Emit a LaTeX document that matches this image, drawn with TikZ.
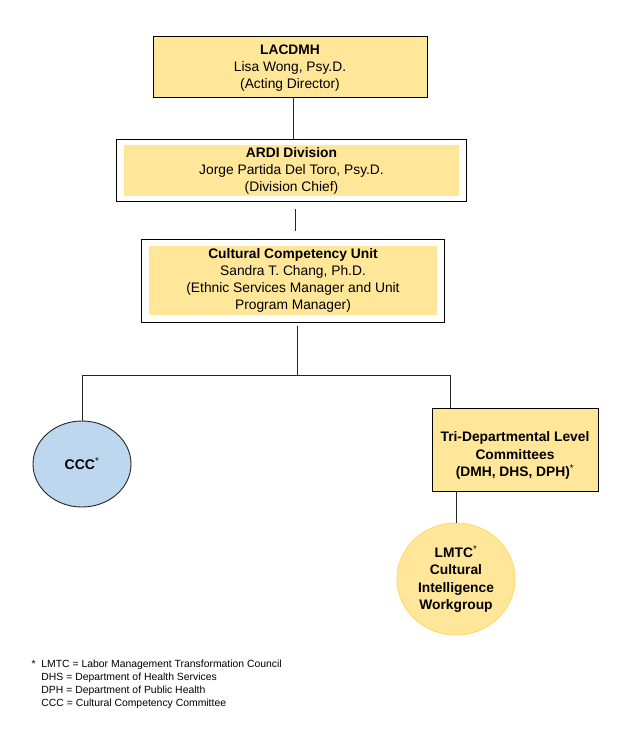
\documentclass[tikz,border=0pt]{standalone}
\usepackage{fontspec}
\setmainfont{Liberation Sans}
\usetikzlibrary{
  calc,
  fit,
  positioning,
  shapes.geometric,
}
\definecolor{boxyellow}{HTML}{FFE699}
\definecolor{cccblue}{HTML}{BDD7EE}
\definecolor{rimyellow}{HTML}{FFD966}
\newcommand{\boxfont}{\fontsize{13.8}{17}\selectfont}
\newcommand{\cmtfont}{\fontsize{13.8}{17.2}\selectfont\bfseries}
\newcommand{\notefont}{\fontsize{10.4}{13}\selectfont}
\tikzset{
  orgbox/.style={fill=boxyellow, align=center, font=\boxfont, inner sep=0pt},
  framebox/.style={draw, inner xsep=7pt, inner ysep=5pt},
  orgline/.style={draw=black!85, line width=0.8pt},
}

\begin{document}
\begin{tikzpicture}[x=1pt, y=-1pt, line width=0.9pt]

        \useasboundingbox (0,0) rectangle (629,742);

        % top of the chart
        \node [orgbox, draw, minimum width=274pt, minimum height=61pt]
              (lacdmh) at (290,66.5) {};
        \node [align=center, font=\boxfont, inner sep=0pt]
              at ([yshift=-2pt]lacdmh.center)
              {\textbf{LACDMH}\\Lisa Wong, Psy.D.\\(Acting Director)};

        \node [orgbox, minimum width=335pt, minimum height=51pt]
              (ardi) at (291.5,170.5)
              {\textbf{ARDI Division}\\Jorge Partida Del Toro, Psy.D.\\(Division Chief)};
        \node [framebox, fit=(ardi)] (ardiframe) {};

        \node [orgbox, minimum width=288pt, minimum height=69pt]
              (ccu) at (293,280.5)
              {\textbf{Cultural Competency Unit}\\Sandra T. Chang, Ph.D.\\(Ethnic Services Manager and Unit\\Program Manager)};
        \node [framebox, inner ysep=6.5pt, fit=(ccu)] (ccuframe) {};

        % committees
        \node [ellipse, draw=black!85, fill=cccblue, minimum width=98pt,
               minimum height=86pt, inner sep=0pt, font=\fontsize{14}{16}\selectfont\bfseries]
              (ccc) at (82,464) {CCC\textsuperscript{\mdseries*}};

        \node [orgbox, draw, minimum width=166pt, minimum height=83pt]
              (tri) at (515,449.5) {};
        \node [align=center, font=\cmtfont, inner sep=0pt]
              at ([yshift=-6pt]tri.center)
              {Tri-Departmental Level\\Committees\\(DMH, DHS, DPH)\textsuperscript{\mdseries*}};

        \node [ellipse, draw=rimyellow, fill=boxyellow, minimum width=118pt,
               minimum height=112pt, inner sep=0pt, align=center,
               font=\cmtfont]
              (lmtc) at (456,579)
              {LMTC\textsuperscript{\mdseries*}\\Cultural\\Intelligence\\Workgroup};

        \coordinate (split) at (297,375);

        % connectors
        \draw [orgline] (lacdmh.south -| 293,0) -- (ardiframe.north -| 293,0);
        \draw [orgline, shorten <=7pt, shorten >=8pt]
              (ardiframe.south -| 295,0) -- (ccuframe.north -| 295,0);
        \draw [orgline, shorten <=4pt] (ccuframe.south -| split) -- (split);
        \draw [orgline] (ccc.north) |- (split);
        \draw [orgline] (split) -| ([xshift=19pt]tri.north west);
        \draw [orgline] (lmtc.north) -- (lmtc.north |- tri.south);

        % footnotes
        \node [anchor=north west, align=left, inner sep=0pt, font=\notefont]
              (notes) at (41,660)
              {\llap{*\ \ }LMTC = Labor Management Transformation Council\\
               DHS = Department of Health Services\\
               DPH = Department of Public Health\\
               CCC = Cultural Competency Committee};
      \end{tikzpicture}
\end{document}
